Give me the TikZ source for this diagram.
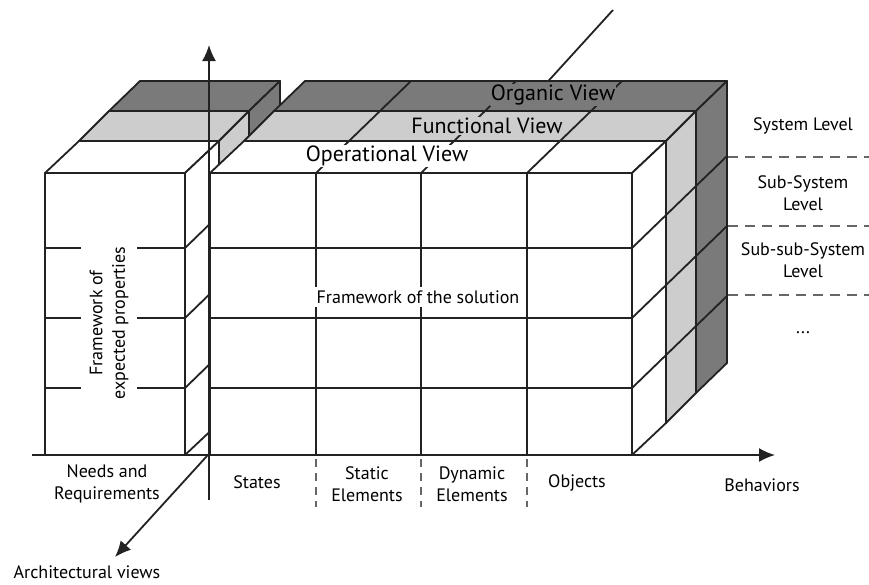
\documentclass[tikz,border=0pt]{standalone}
\usepackage{fontspec}
\setmainfont{PT Sans}
\usetikzlibrary{arrows.meta}
\definecolor{ink}{HTML}{222222}
\definecolor{lightface}{HTML}{CDCDCD}
\definecolor{darkface}{HTML}{7A7A7A}
\definecolor{rule}{HTML}{666666}

\begin{document}
\begin{tikzpicture}[
  x=1pt,y=-1pt,
  edge/.style={draw=ink,line width=1.8pt,line join=round},
  axis/.style={draw=ink,line width=1.8pt,-{Latex[length=16pt,width=14pt]}},
  level/.style={draw=rule,line width=2.8pt,dash pattern=on 10pt off 7pt},
  column/.style={draw=rule,line width=2.8pt,dash pattern=on 8pt off 6pt},
  lbl/.style={font=\fontsize{18}{22.5}\selectfont,align=center},
  view/.style={font=\fontsize{22}{24}\selectfont,inner sep=1pt}
]
\useasboundingbox (0,0) rectangle (869,584);
\coordinate (origin) at (209,455);
\coordinate (far) at (613,10);
\coordinate (near) at (115,557);
\coordinate (up) at (209,45);
\coordinate (down) at (209,500);
\coordinate (start) at (32,455);
\coordinate (end) at (775,455);
\draw[axis] (far) -- (near);
\foreach \lx/\rx in {45/185,210/632} {
  \foreach \ia/\ja/\ib/\jb/\face in {64/62/95/92/darkface,34/32/64/62/lightface,0/0/34/32/white} {
    \filldraw[edge,fill=\face] (\lx+\ia,173-\ja) -- (\rx+\ia,173-\ja) -- (\rx+\ib,173-\jb) -- (\lx+\ib,173-\jb) -- cycle;
    \filldraw[edge,fill=\face] (\rx+\ia,173-\ja) -- (\rx+\ib,173-\jb) -- (\rx+\ib,455-\jb) -- (\rx+\ia,455-\ja) -- cycle;
  }
  \filldraw[edge,fill=white] (\lx,173) rectangle (\rx,455);
  \foreach \y in {248,318,388}
    \draw[edge] (\lx,\y) -- (\rx,\y) -- (\rx+95,\y-92);
}
\foreach \x in {316,421,527}
  \draw[edge] (\x,455) -- (\x,173) -- (\x+95,81);
\foreach \x in {316,421,527}
  \draw[column] (\x,459) -- (\x,507);
\foreach \y in {157,226,295}
  \draw[level] (728,\y) -- (869,\y);
\node[view,fill=white] (operational) at (387,156) {Operational View};
\node[view,fill=lightface] (functional) at (487,126) {Functional View};
\node[view,fill=darkface] (organic) at (553,95) {Organic View};
\node[lbl,fill=white,inner sep=4pt] (solution) at (418,297) {Framework of the solution};
\node[lbl,fill=white,rotate=90,inner xsep=2pt,inner ysep=9pt] (expected) at (109,323) {Framework of\\expected properties};
\node[lbl] (system) at (803,126) {System Level};
\node[lbl] (subsystem) at (803,193) {Sub-System\\Level};
\node[lbl] (subsubsystem) at (803,260) {Sub-sub-System\\Level};
\node[lbl] (more) at (803,333) {...};
\node[lbl] (needs) at (107,484) {Needs and\\Requirements};
\node[lbl] (states) at (257,482) {States};
\node[lbl] (static) at (367,484) {Static\\Elements};
\node[lbl] (dynamic) at (472,484) {Dynamic\\Elements};
\node[lbl] (objects) at (577,483) {Objects};
\node[lbl] (behaviors) at (762,485) {Behaviors};
\node[lbl] (views) at (87,572) {Architectural views};
\draw[edge] (down) -- (origin);
\draw[axis] (origin) -- (up);
\draw[axis] (start) -- (end);
\end{tikzpicture}
\end{document}
